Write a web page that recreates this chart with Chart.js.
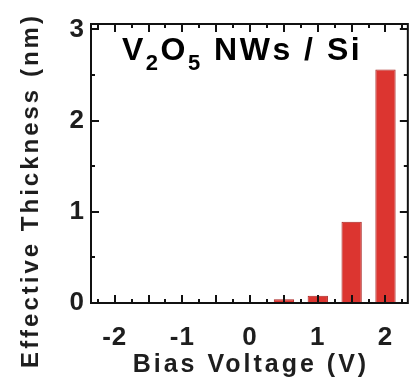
<!DOCTYPE html>
<html>
<head>
<meta charset="utf-8">
<script src="https://cdn.jsdelivr.net/npm/chart.js@4.4.1/dist/chart.umd.min.js"></script>
<style>
    html, body { margin: 0; padding: 0; background: #fff; }
</style>
</head>
<body>
<canvas id="canvas1" width="412" height="378"></canvas>
<script>
// bias voltage (V) and effective thickness (nm)
const BiasVoltage = [0.5, 1, 1.5, 2];
const Thickness = [0.04, 0.08, 0.89, 2.56];
const XTickLabels = [-2, -1, 0, 1, 2];
const YTickLabels = [0, 1, 2, 3];

const FONT = '"Liberation Sans", Arial, sans-serif';
const TEXT = '#1e1e1e';

// slight tracking on the tick numbers
const spacing = {
    id: 'spacing',
    beforeDraw(chart) { chart.ctx.letterSpacing = '1px'; },
    afterDraw(chart) { chart.ctx.letterSpacing = '0px'; }
};

// box around the plot with inward ticks on every side
const frame = {
    id: 'frame',
    afterDatasetsDraw(chart) {
        const { ctx, chartArea: a, scales: { x, y } } = chart;
        ctx.save();
        ctx.strokeStyle = '#111';
        ctx.lineWidth = 2;
        ctx.strokeRect(a.left, a.top, a.right - a.left, a.bottom - a.top);
        ctx.beginPath();
        for (let i = -9; i <= 9; i++) {
            const px = Math.round(x.getPixelForValue(i * 0.25));
            const len = i % 2 === 0 ? 8 : 4;
            ctx.moveTo(px, a.bottom); ctx.lineTo(px, a.bottom - len);
            ctx.moveTo(px, a.top); ctx.lineTo(px, a.top + len);
        }
        for (let i = 1; i <= 6; i++) {
            const py = Math.round(y.getPixelForValue(i * 0.5));
            const len = i % 2 === 0 ? 8 : 4;
            ctx.moveTo(a.left, py); ctx.lineTo(a.left + len, py);
            ctx.moveTo(a.right, py); ctx.lineTo(a.right - len, py);
        }
        ctx.stroke();
        ctx.restore();
    }
};

// "V2O5 NWs / Si" with subscripts, and both axis titles
const label = {
    id: 'label',
    afterDraw(chart) {
        const { ctx, chartArea: a } = chart;
        const parts = [
            { t: 'V' }, { t: '2', sub: true }, { t: 'O' }, { t: '5', sub: true }, { t: ' NWs / Si' }
        ];
        let px = a.left + 31;
        const base = a.top + 36;
        ctx.save();
        ctx.fillStyle = '#000';
        ctx.textBaseline = 'alphabetic';
        ctx.letterSpacing = '2.5px';
        parts.forEach(p => {
            ctx.font = p.sub ? 'bold 22px ' + FONT : 'bold 32px ' + FONT;
            ctx.fillText(p.t, px, p.sub ? base + 10 : base);
            px += ctx.measureText(p.t).width;
        });
        ctx.restore();

        ctx.save();
        ctx.fillStyle = TEXT;
        ctx.letterSpacing = '3px';
        ctx.textAlign = 'center';
        ctx.textBaseline = 'alphabetic';
        ctx.font = 'bold 25px ' + FONT;
        ctx.fillText('Bias Voltage (V)', (a.left + a.right) / 2 + 1.5, 372);
        ctx.font = 'bold 24px ' + FONT;
        ctx.translate(38, chart.height / 2 + 1.5);
        ctx.rotate(-Math.PI / 2);
        ctx.fillText('Effective Thickness (nm)', 0, 0);
        ctx.restore();
    }
};

const data = {
    datasets: [{
        label: 'Effective Thickness',
        data: BiasVoltage.map((v, i) => ({ x: v, y: Thickness[i] })),
        backgroundColor: '#dc3530',
        borderColor: '#a82422',
        borderWidth: 1,
        barPercentage: 0.6,
        categoryPercentage: 1
    }]
};

const config = {
    type: 'bar',
    data: data,
    options: {
        responsive: false,
        animation: false,
        layout: { padding: { top: 24, right: 4, left: 0, bottom: 0 } },
        plugins: {
            legend: { display: false },
            tooltip: { enabled: false }
        },
        scales: {
            x: {
                type: 'linear',
                offset: false,
                min: -2.35,
                max: 2.33,
                grid: { display: false, drawTicks: false },
                border: { display: false },
                afterBuildTicks: s => { s.ticks = XTickLabels.map(v => ({ value: v })); },
                afterFit: s => { s.height = 75; },
                ticks: {
                    font: { family: FONT, size: 26, weight: 'bold' },
                    color: TEXT,
                    padding: 19,
                    maxRotation: 0,
                    autoSkip: false
                }
            },
            y: {
                min: 0,
                max: 3.06,
                offset: false,
                grid: { display: false, drawTicks: false },
                border: { display: false },
                afterBuildTicks: s => { s.ticks = YTickLabels.map(v => ({ value: v })); },
                afterFit: s => { s.width = 91; },
                ticks: {
                    font: { family: FONT, size: 26, weight: 'bold' },
                    color: TEXT,
                    padding: 6
                }
            }
        }
    },
    plugins: [spacing, frame, label]
};

const chart = new Chart(document.getElementById('canvas1'), config);
</script>
</body>
</html>
